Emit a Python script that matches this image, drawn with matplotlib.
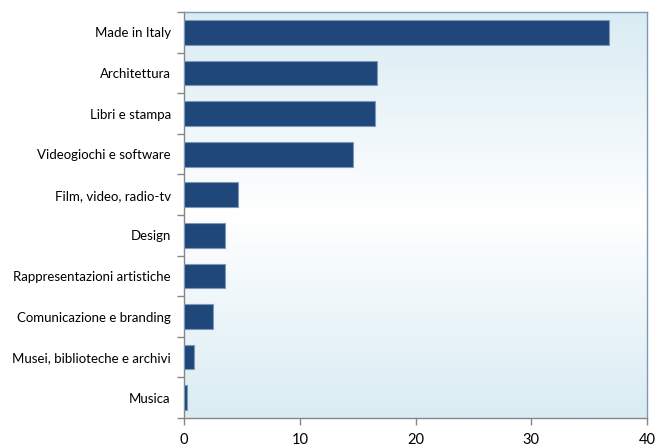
import numpy as np
import matplotlib.pyplot as plt
from matplotlib.colors import LinearSegmentedColormap

categorie = ['Made in Italy', 'Architettura', 'Libri e stampa', 'Videogiochi e software',
             'Film, video, radio-tv', 'Design', 'Rappresentazioni artistiche',
             'Comunicazione e branding', 'Musei, biblioteche e archivi', 'Musica']
valori = [36.7, 16.7, 16.5, 14.6, 4.7, 3.5, 3.5, 2.5, 0.9, 0.3]
xticks = [0, 10, 20, 30, 40]

plt.rcParams['font.family'] = ['Lato', 'DejaVu Sans']

fig = plt.figure(figsize=(6.56, 4.48), dpi=100)
ax = fig.add_axes([0.2805, 0.067, 0.706, 0.906])

# sfondo sfumato: azzurro in alto e in basso, bianco al centro
cmap = LinearSegmentedColormap.from_list('bg', ['#d9ecf3', '#ffffff', '#d9ecf3'])
grad = np.linspace(0, 1, 256).reshape(-1, 1)
ax.imshow(grad, cmap=cmap, aspect='auto', extent=[0, 40, 9.5, -0.5], zorder=0)

y = np.arange(len(categorie))
ax.barh(y, valori, height=0.61, color='#1f477a', edgecolor='#7f97b8', linewidth=0.8, zorder=3)

ax.set_xlim(0, 40)
ax.set_ylim(9.5, -0.5)
ax.set_xticks(xticks)
ax.set_yticks(y)
ax.set_yticklabels(categorie)
ax.set_yticks(np.arange(-0.5, 10, 1), minor=True)
ax.tick_params(axis='y', which='major', length=0, pad=9.5, labelsize=9.5)
ax.tick_params(axis='y', which='minor', length=5, color='#868686', width=1)
ax.tick_params(axis='x', length=5, color='#868686', width=1, labelsize=10.5, pad=6)

for s in ['top', 'right']:
    ax.spines[s].set_color('#7f97b8')
for s in ['left', 'bottom']:
    ax.spines[s].set_color('#868686')
for s in ax.spines.values():
    s.set_linewidth(1)

fig.savefig('out.png', dpi=100)
